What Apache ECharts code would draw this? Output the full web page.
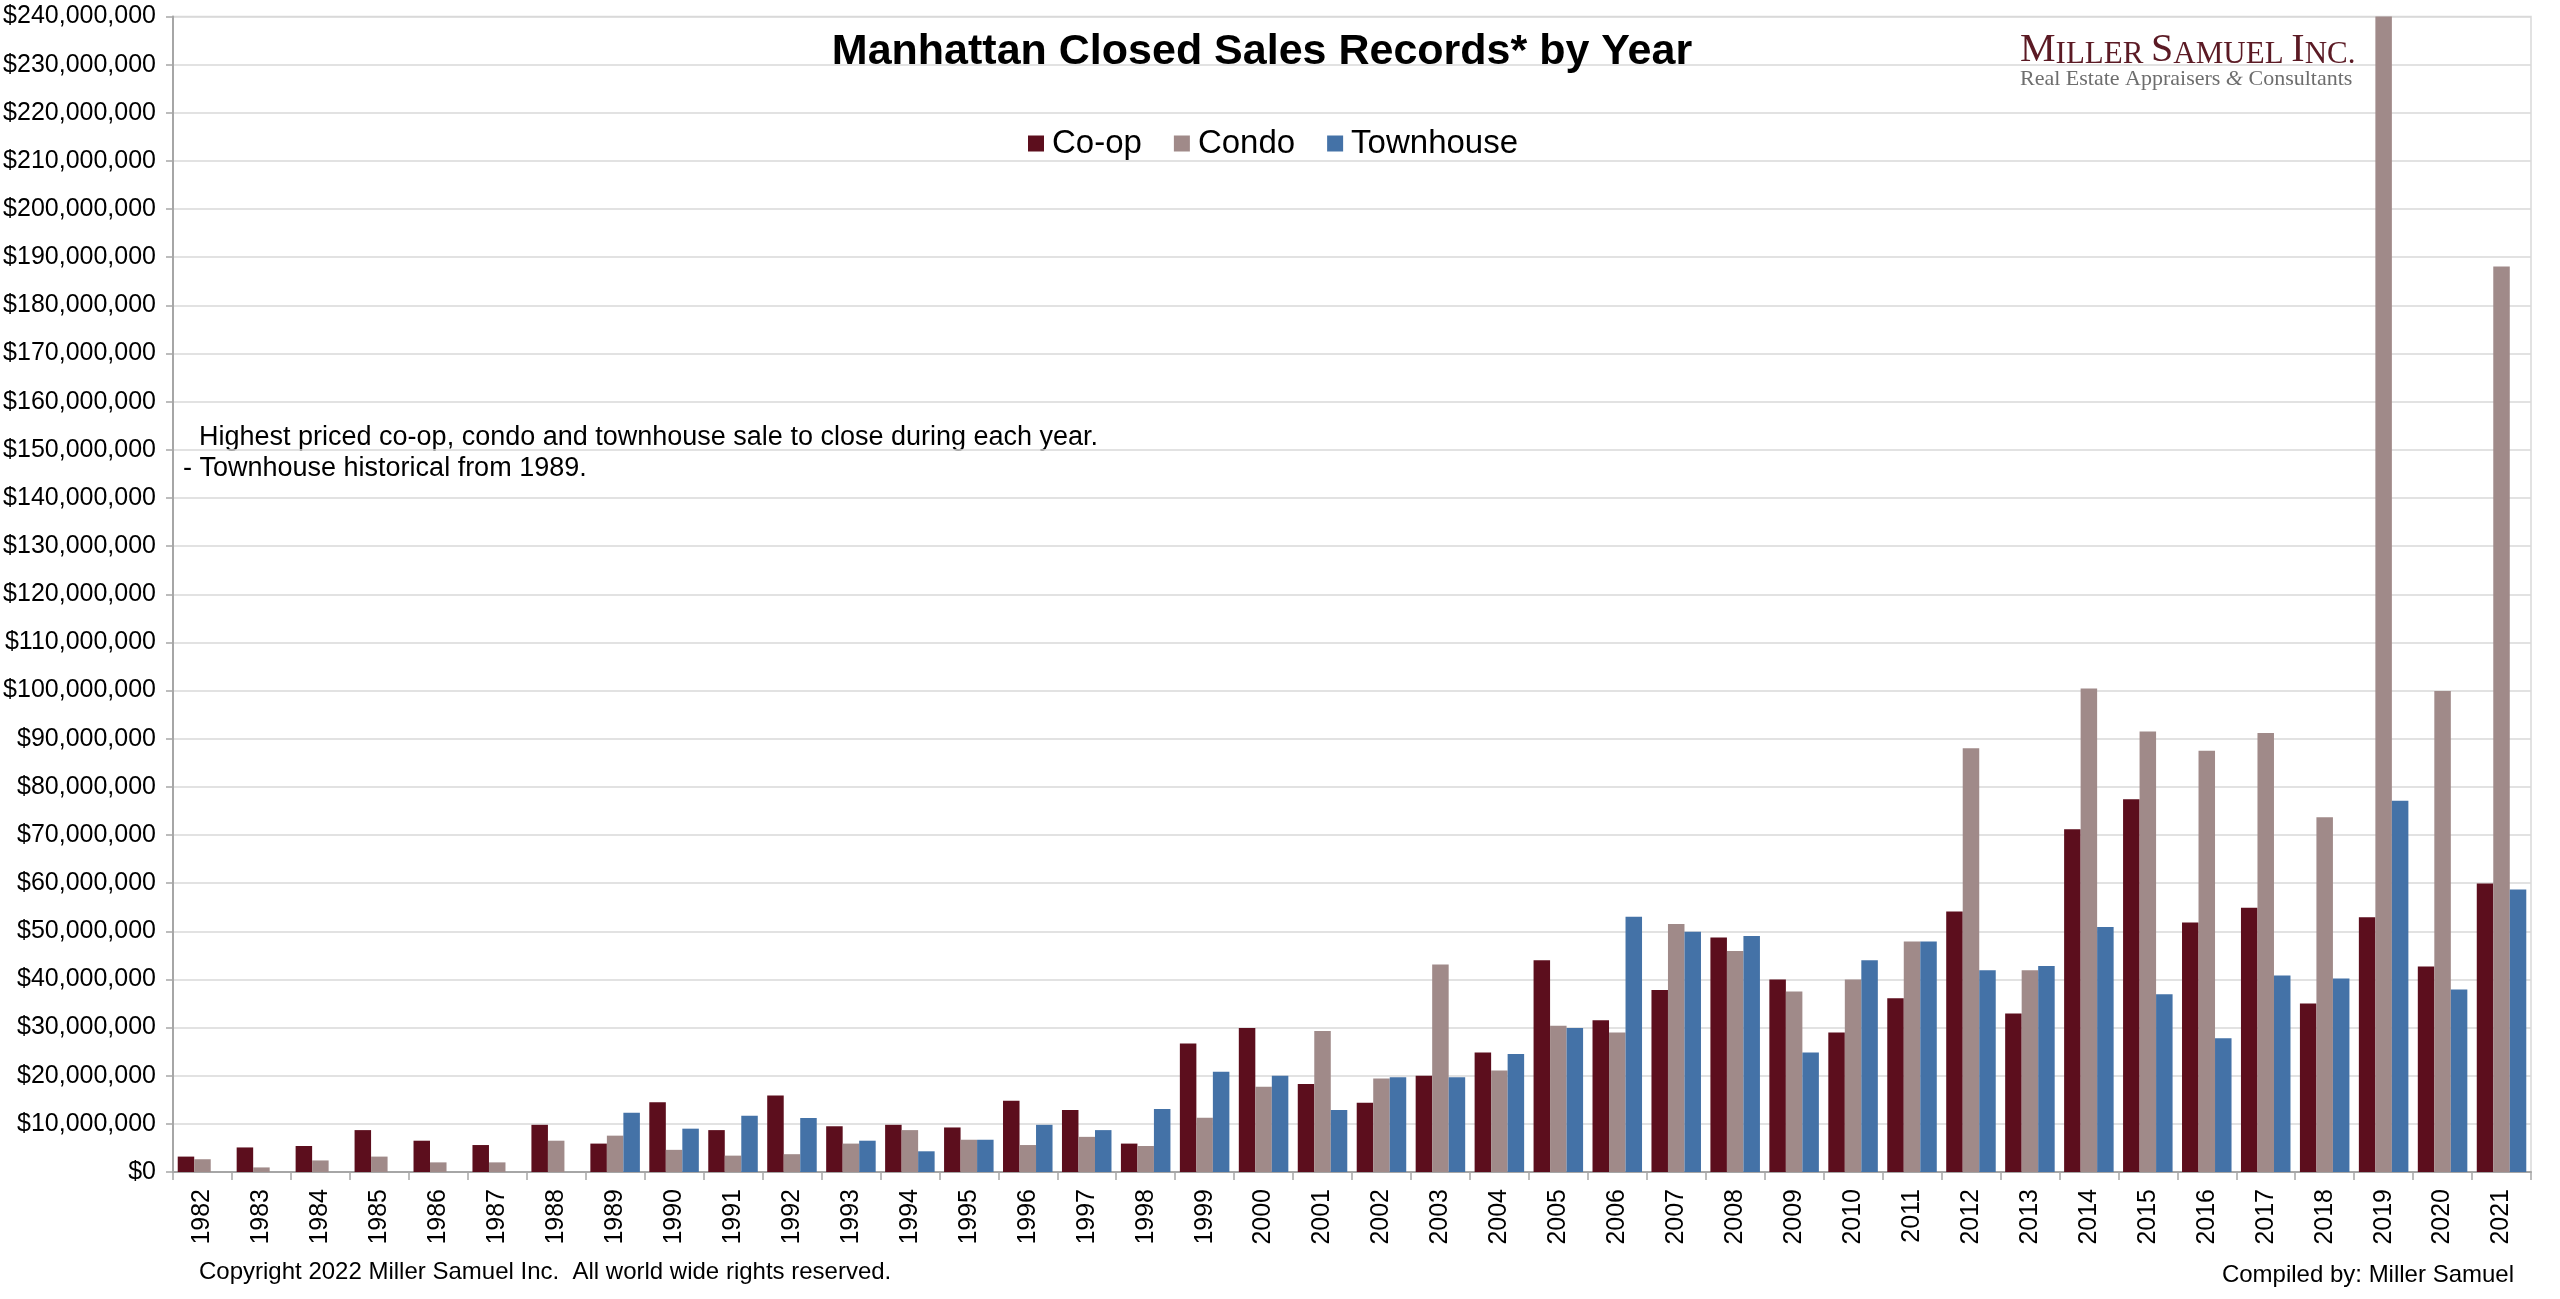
<!DOCTYPE html>
<html>
<head>
<meta charset="utf-8">
<script src="https://cdn.jsdelivr.net/npm/echarts@6/dist/echarts.min.js"></script>
<style>
html,body{margin:0;padding:0;background:#fff;}
#chart{width:2560px;height:1299px;}
</style>
</head>
<body>
<div id="chart"></div>
<script>
const years = ['1982','1983','1984','1985','1986','1987','1988','1989','1990','1991','1992','1993','1994','1995','1996','1997','1998','1999','2000','2001','2002','2003','2004','2005','2006','2007','2008','2009','2010','2011','2012','2013','2014','2015','2016','2017','2018','2019','2020','2021'];

const coop = [3200000,5100000,5400000,8700000,6500000,5600000,9800000,5900000,
  14500000,8700000,15900000,9500000,9800000,9250000,14800000,12900000,5900000,26700000,
  29900000,18300000,14400000,20000000,24800000,44000000,31500000,37800000,48700000,40000000,
  29000000,36100000,54100000,32900000,71200000,77400000,51800000,54900000,35000000,52900000,
  42700000,59900000];

const condo = [2650000,950000,2400000,3200000,2000000,2000000,6500000,7550000,
  4600000,3400000,3700000,5900000,8700000,6700000,5600000,7300000,5400000,11250000,
  17700000,29300000,19400000,43100000,21100000,30400000,29000000,51500000,45900000,37500000,
  40000000,47900000,88000000,41900000,100400000,91500000,87500000,91200000,73700000,240000000,
  99900000,188100000];

const townhouse = [null,null,null,null,null,null,null,12300000,
  9000000,11700000,11200000,6500000,4300000,6700000,9800000,8700000,13100000,20800000,
  20000000,12900000,19700000,19700000,24500000,29900000,53000000,49900000,49000000,24800000,
  44000000,47900000,41900000,42800000,50900000,36900000,27800000,40800000,40200000,77100000,
  37900000,58700000];

const FONT = "'Liberation Sans', Arial, sans-serif";
const SERIF = "'Liberation Serif', 'Times New Roman', serif";

const chart = echarts.init(document.getElementById('chart'));
chart.setOption({
  backgroundColor: '#ffffff',
  animation: false,
  title: {
    text: 'Manhattan Closed Sales Records* by Year',
    left: 1257, top: 26, textAlign: 'center',
    textStyle: {fontFamily: FONT, fontWeight: 'bold', fontSize: 43, color: '#000'}
  },
  legend: {
    left: 1023, top: 122,
    itemWidth: 16, itemHeight: 16, itemGap: 32,
    icon: 'rect',
    textStyle: {fontFamily: FONT, fontSize: 33, color: '#000', padding: [0,0,0,3]},
    data: ['Co-op','Condo','Townhouse']
  },
  grid: {
    left: 173, right: 29, top: 16.5, bottom: 127,
    show: true, borderColor: '#d9d9d9', borderWidth: 1.5, backgroundColor: 'transparent'
  },
  xAxis: {
    type: 'category',
    data: years,
    axisLine: {lineStyle: {color: '#a6a6a6', width: 2}},
    axisTick: {show: true, alignWithLabel: false, length: 8, lineStyle: {color: '#a6a6a6', width: 1.5}},
    axisLabel: {rotate: 90, margin: 17, fontFamily: FONT, fontSize: 25, color: '#000', interval: 0}
  },
  yAxis: {
    type: 'value',
    min: 0, max: 240000000, interval: 10000000,
    axisLine: {show: true, lineStyle: {color: '#a6a6a6', width: 2}},
    axisTick: {show: true, length: 7, lineStyle: {color: '#a6a6a6', width: 1.5}},
    splitLine: {lineStyle: {color: '#d9d9d9', width: 1.5}},
    axisLabel: {
      margin: 17, fontFamily: FONT, fontSize: 25, color: '#000',
      formatter: v => '$' + v.toLocaleString('en-US')
    }
  },
  series: [
    {name: 'Co-op', type: 'bar', data: coop, barGap: '0%', barCategoryGap: '16%', itemStyle: {color: '#5c0e1d'}},
    {name: 'Condo', type: 'bar', data: condo, barGap: '0%', barCategoryGap: '16%', itemStyle: {color: '#a08a89'}},
    {name: 'Townhouse', type: 'bar', data: townhouse, barGap: '0%', barCategoryGap: '16%', itemStyle: {color: '#4472a7'}}
  ],
  graphic: [
    {type: 'text', left: 199, top: 424, style: {text: 'Highest priced co-op, condo and townhouse sale to close during each year.', font: '27px ' + FONT, fill: '#000'}},
    {type: 'text', left: 183, top: 455, style: {text: '- Townhouse historical from 1989.', font: '27px ' + FONT, fill: '#000'}},
    {type: 'text', left: 199, top: 1260, style: {text: 'Copyright 2022 Miller Samuel Inc.  All world wide rights reserved.', font: '24px ' + FONT, fill: '#000'}},
    {type: 'text', right: 46, top: 1263, style: {text: 'Compiled by: Miller Samuel', font: '24px ' + FONT, fill: '#000'}},
    {type: 'text', left: 2020, top: 30, style: {
      text: '{b|M}{s|ILLER }{b|S}{s|AMUEL }{b|I}{s|NC.}',
      rich: {
        b: {fontFamily: SERIF, fontSize: 40, fill: '#5b1a24', verticalAlign: 'bottom'},
        s: {fontFamily: SERIF, fontSize: 31, fill: '#5b1a24', verticalAlign: 'bottom'}
      }
    }},
    {type: 'text', left: 2020, top: 68, style: {
      text: 'Real Estate Appraisers {i|&} Consultants',
      font: '22px ' + SERIF, fill: '#6e6e6e',
      rich: {i: {fontFamily: SERIF, fontStyle: 'italic', fontSize: 22, fill: '#6e6e6e'}}
    }}
  ]
});
</script>
</body>
</html>
